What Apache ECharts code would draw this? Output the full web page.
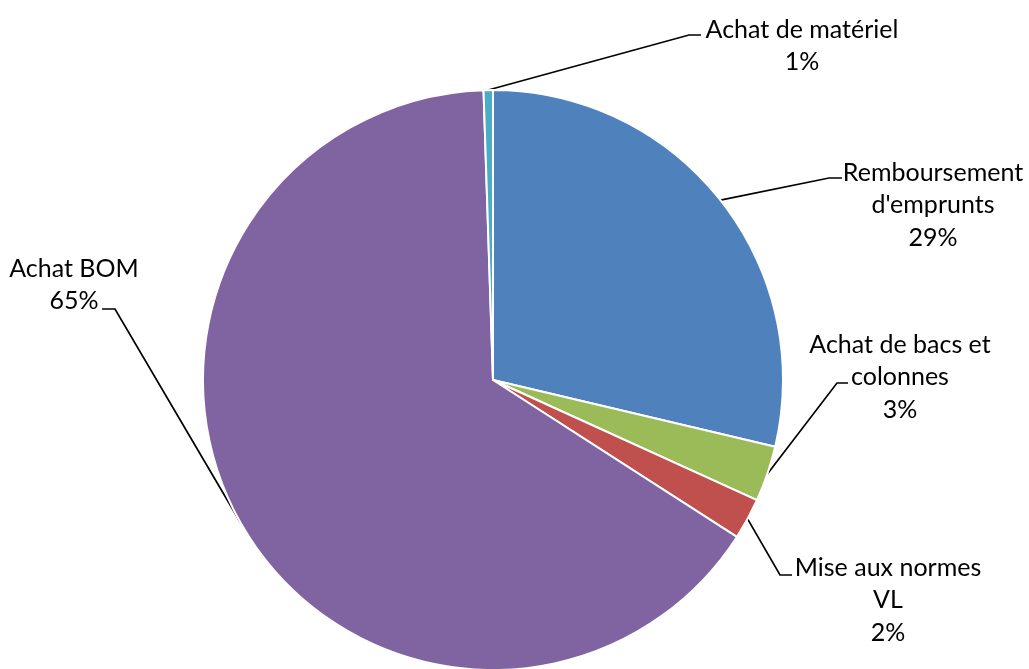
<!DOCTYPE html>
<html>
<head>
<meta charset="utf-8">
<script src="https://cdn.jsdelivr.net/npm/echarts@6/dist/echarts.min.js"></script>
<style>
  html, body { margin: 0; padding: 0; background: #fff; }
  #chart { width: 1029px; height: 669px; }
</style>
</head>
<body>
<div id="chart"></div>
<script>
// Data (clockwise from 12 o'clock)
const categories = ["Remboursement\nd'emprunts", "Achat de bacs et\ncolonnes", "Mise aux normes\nVL", "Achat BOM", "Achat de matériel"];
const values = [28.7, 3.1, 2.3, 65.38, 0.52];
const colors = ['#4F81BD', '#9BBB59', '#C0504D', '#8064A2', '#4BACC6'];

// Label placement (text block centre, leader elbow and end)
const labelPlacement = [
  { x: 933, y: 205, ex: 829, hx: 842, ey: 178 },
  { x: 900, y: 377, ex: 837, hx: 848, ey: 383 },
  { x: 888, y: 600, ex: 780, hx: 792, ey: 575 },
  { x: 74,  y: 285, ex: 115, hx: 102, ey: 309 },
  { x: 802, y: 46,  ex: 689, hx: 701, ey: 35 }
];

const chart = echarts.init(document.getElementById('chart'), null, { renderer: 'canvas' });
chart.setOption({
  animation: false,
  backgroundColor: '#ffffff',
  series: [{
    type: 'pie',
    center: [493, 380],
    radius: 290,
    startAngle: 90,
    clockwise: true,
    avoidLabelOverlap: false,
    data: categories.map((c, i) => ({ name: c, value: values[i], itemStyle: { color: colors[i] } })),
    itemStyle: { borderColor: '#ffffff', borderWidth: 2 },
    emphasis: { disabled: true },
    label: {
      show: true,
      position: 'outside',
      color: '#000000',
      fontFamily: 'Lato',
      fontSize: 25,
      lineHeight: 32.5,
      align: 'center',
      formatter: p => p.name + '\n' + Math.round(p.percent) + '%'
    },
    labelLine: {
      show: true,
      length: 20,
      length2: 10,
      lineStyle: { color: '#000000', width: 1.7 }
    },
    labelLayout: function (params) {
      const L = labelPlacement[params.dataIndex];
      const pts = params.labelLinePoints;
      const start = pts ? pts[0] : [L.ex, L.ey];
      return {
        x: L.x,
        y: L.y,
        align: 'center',
        verticalAlign: 'middle',
        labelLinePoints: [start, [L.ex, L.ey], [L.hx, L.ey]]
      };
    }
  }]
});
</script>
</body>
</html>
